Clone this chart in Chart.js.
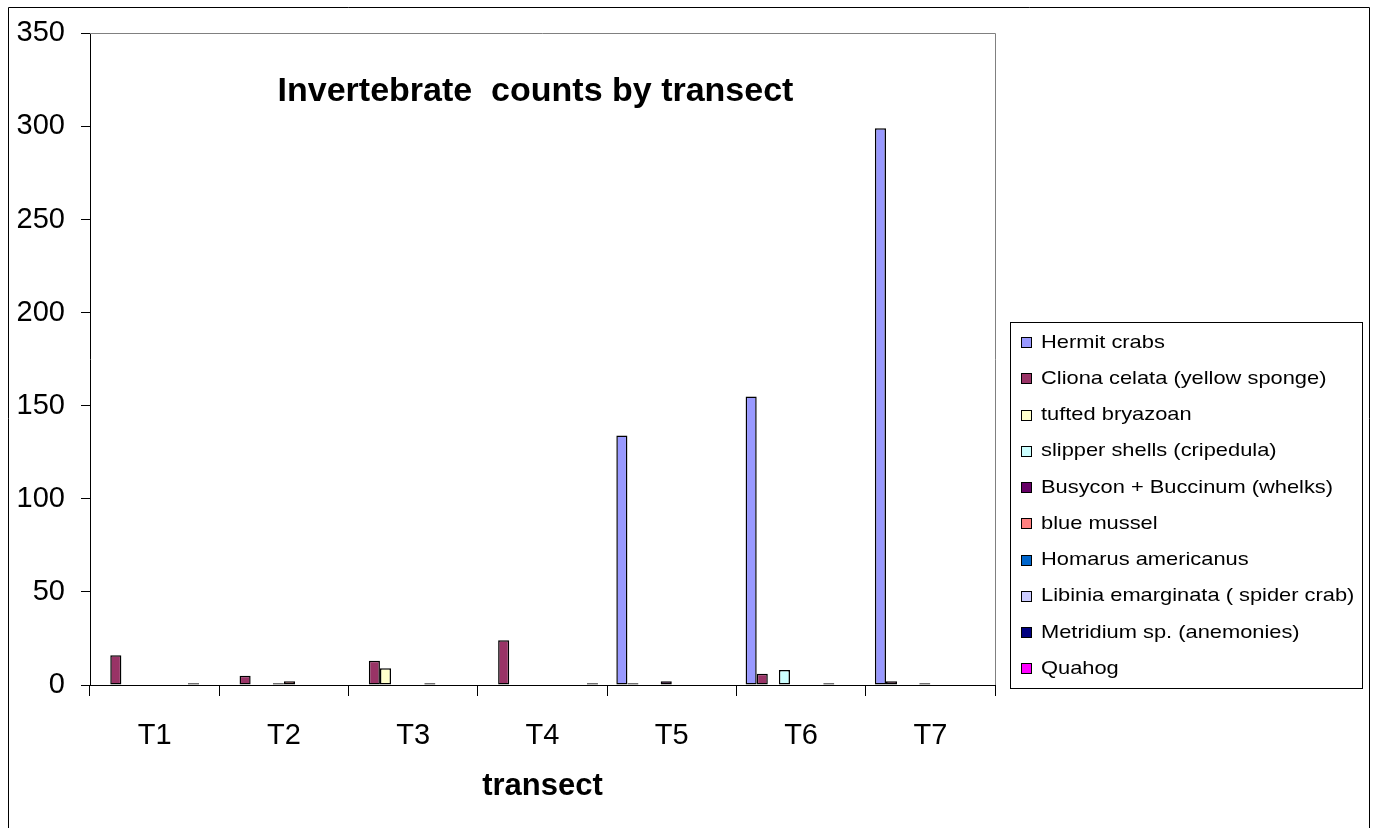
<!DOCTYPE html>
<html>
<head>
<meta charset="utf-8">
<title>Invertebrate counts by transect</title>
<script src="https://cdn.jsdelivr.net/npm/chart.js@4/dist/chart.umd.min.js"></script>
<style>
  html, body { margin: 0; padding: 0; background: #fff; }
  canvas { display: block; }
</style>
</head>
<body>
<canvas id="chart" width="1373" height="828"></canvas>
<script>
// Transects along the survey line
const transects = ['T1', 'T2', 'T3', 'T4', 'T5', 'T6', 'T7'];

// Counts per taxon, one value per transect
const hermitCrabs   = [0, 0, 0, 0, 134, 155, 299];
const clionaCelata  = [16, 5, 13, 24, 1, 6, 2];
const tuftedBryozoan = [0, 0, 9, 0, 0, 0, 0];
const slipperShells = [0, 0, 0, 0, 0, 8, 0];
const whelks        = [0, 1, 0, 0, 2, 0, 1];
const blueMussel    = [0, 2, 0, 0, 0, 0, 0];
const homarus       = [0, 0, 1, 0, 0, 0, 0];
const libinia       = [0, 0, 0, 0, 0, 1, 0];
const metridium     = [1, 0, 0, 0, 0, 0, 0];
const quahog        = [0, 0, 0, 1, 0, 0, 0];

const seriesNames = [
  'Hermit crabs',
  'Cliona celata (yellow sponge)',
  'tufted bryazoan',
  'slipper shells (cripedula)',
  'Busycon + Buccinum (whelks)',
  'blue mussel',
  'Homarus americanus',
  'Libinia emarginata ( spider crab)',
  'Metridium sp. (anemonies)',
  'Quahog'
];
const seriesValues = [hermitCrabs, clionaCelata, tuftedBryozoan, slipperShells, whelks,
                      blueMussel, homarus, libinia, metridium, quahog];
const seriesColors = ['#9999FF', '#993366', '#FFFFCC', '#CCFFFF', '#660066',
                      '#FF8080', '#0066CC', '#CCCCFF', '#000080', '#FF00FF'];

const yMin = 0, yMax = 350, yStep = 50;
const chartTitle = 'Invertebrate  counts by transect';
const xTitle = 'transect';

const FONT = "'Liberation Sans', Arial, sans-serif";

// Frame, plot border, in-plot title and boxed legend
const decorations = {
  id: 'decorations',
  afterDraw(chart) {
    const ctx = chart.ctx;
    const a = chart.chartArea;
    ctx.save();

    // outer frame
    ctx.strokeStyle = '#000';
    ctx.lineWidth = 1;
    ctx.beginPath();
    ctx.moveTo(8.5, 830);
    ctx.lineTo(8.5, 7.5);
    ctx.lineTo(1369.5, 7.5);
    ctx.lineTo(1369.5, 830);
    ctx.stroke();

    // plot area border (top and right)
    ctx.strokeStyle = '#808080';
    ctx.beginPath();
    ctx.moveTo(a.left, Math.round(a.top) + 0.5);
    ctx.lineTo(Math.round(a.right) + 0.5, Math.round(a.top) + 0.5);
    ctx.lineTo(Math.round(a.right) + 0.5, a.bottom);
    ctx.stroke();

    // title inside the plot
    ctx.fillStyle = '#000';
    ctx.font = 'bold 34px ' + FONT;
    ctx.textAlign = 'center';
    ctx.textBaseline = 'alphabetic';
    ctx.fillText(chartTitle, 535.5, 101);

    // legend
    const lx = 1010, ly = 322, lw = 352, lh = 366;
    ctx.fillStyle = '#fff';
    ctx.fillRect(lx, ly, lw, lh);
    ctx.strokeStyle = '#000';
    ctx.strokeRect(lx + 0.5, ly + 0.5, lw, lh);
    const step = 36.26;
    chart.data.datasets.forEach((ds, i) => {
      const cy = 342 + i * step;
      ctx.fillStyle = ds.backgroundColor;
      ctx.fillRect(1021, Math.round(cy - 5), 10, 10);
      ctx.strokeStyle = '#000';
      ctx.strokeRect(1021.5, Math.round(cy - 5) + 0.5, 10, 10);
      ctx.save();
      ctx.translate(1041, cy + 5.5);
      ctx.scale(1.15, 1);
      ctx.fillStyle = '#000';
      ctx.font = '19px ' + FONT;
      ctx.textAlign = 'left';
      ctx.textBaseline = 'alphabetic';
      ctx.fillText(ds.label, 0, 0);
      ctx.restore();
    });

    ctx.restore();
  }
};

const datasets = seriesNames.map((name, i) => ({
  label: name,
  data: seriesValues[i],
  backgroundColor: seriesColors[i],
  borderColor: '#000',
  borderWidth: 1.5,
  borderSkipped: false,
  barPercentage: 1,
  categoryPercentage: 0.858
}));

new Chart(document.getElementById('chart'), {
  type: 'bar',
  data: { labels: transects, datasets },
  options: {
    responsive: false,
    animation: false,
    layout: { padding: { left: 0, top: 33, right: 378, bottom: 0 } },
    plugins: {
      legend: { display: false },
      tooltip: { enabled: false },
      title: { display: false }
    },
    scales: {
      x: {
        offset: true,
        grid: { offset: true, drawOnChartArea: false, drawTicks: true, tickLength: 11, color: '#000' },
        border: { display: true, color: '#000', width: 1 },
        ticks: { color: '#000', font: { family: FONT, size: 29 }, padding: 23, maxRotation: 0 },
        title: {
          display: true, text: xTitle, color: '#000',
          font: { family: FONT, size: 31, weight: 'bold' },
          padding: { top: 0, bottom: 23 }
        },
        afterFit(scale) { scale.height = 143; }
      },
      y: {
        min: yMin, max: yMax,
        grid: { drawOnChartArea: false, drawTicks: true, tickLength: 9, color: '#000' },
        border: { display: true, color: '#000', width: 1 },
        ticks: { stepSize: yStep, color: '#000', font: { family: FONT, size: 29 }, padding: 16 },
        afterFit(scale) { scale.width = 90; }
      }
    }
  },
  plugins: [decorations]
});
</script>
</body>
</html>
